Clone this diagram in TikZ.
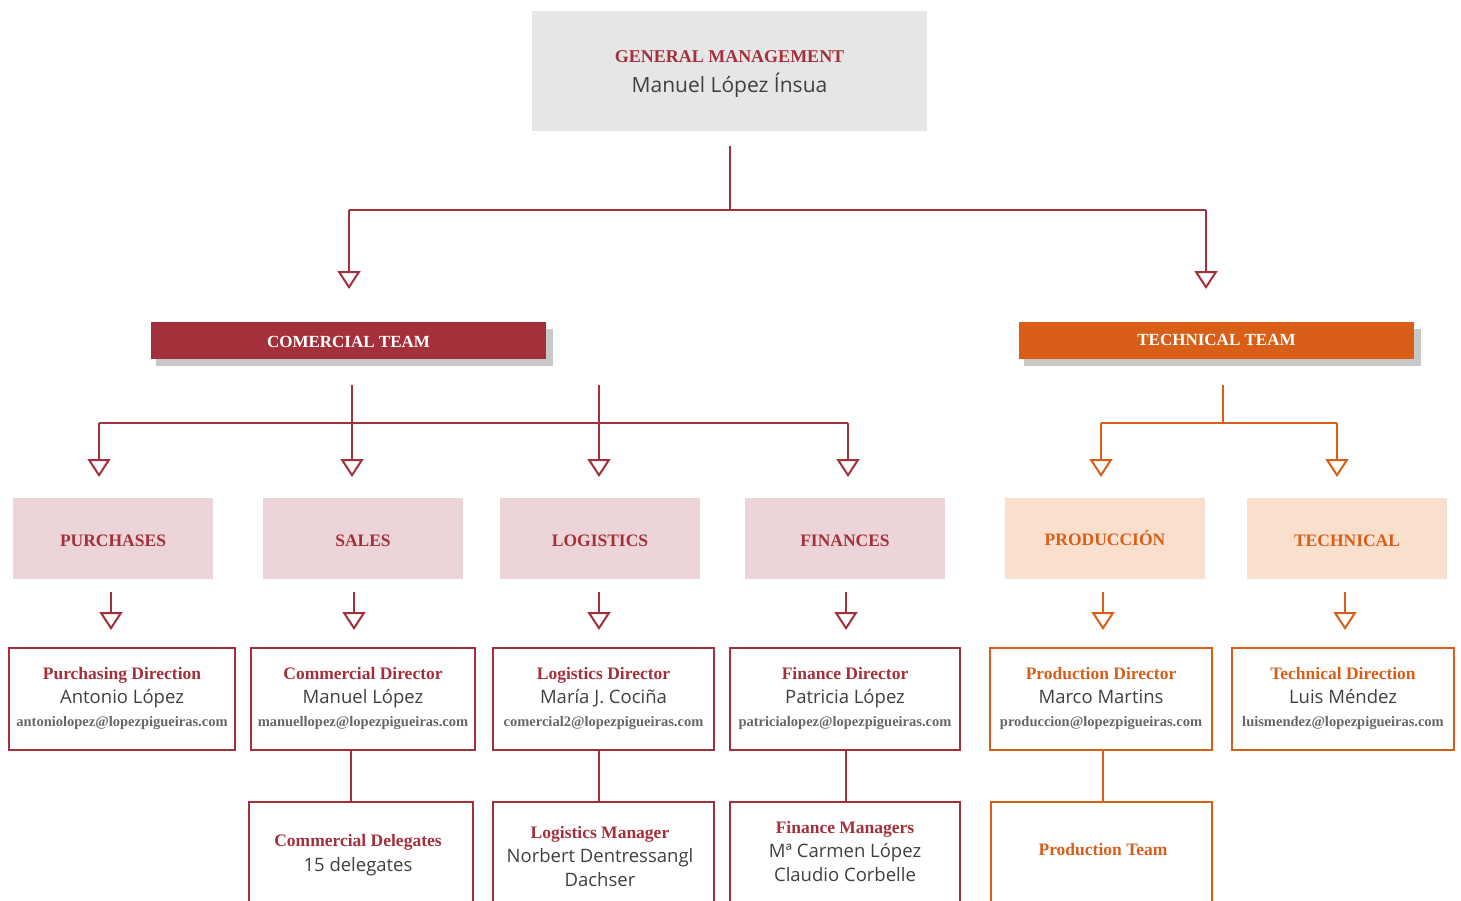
\documentclass[tikz,border=0pt]{standalone}
\usepackage{fontspec}
\setmainfont{Liberation Serif}
\newfontfamily\osans{Open Sans}
\usetikzlibrary{arrows.meta}
\definecolor{cred}{HTML}{A3303A}
\definecolor{corange}{HTML}{D95F18}
\definecolor{cpink}{HTML}{EBD5D8}
\definecolor{cpeach}{HTML}{F8DFCE}
\definecolor{cgm}{HTML}{E6E6E6}
\definecolor{cshadow}{HTML}{C8C8C8}
\definecolor{cname}{HTML}{404040}
\definecolor{cmail}{HTML}{666666}
\newcommand{\ttl}[1]{{\fontsize{17.5}{20}\selectfont\bfseries #1}}
\newcommand{\nm}[1]{{\osans\fontsize{18.5}{23}\selectfont\color{cname}#1}}
\newcommand{\ml}[1]{{\fontsize{14.5}{20}\selectfont\bfseries\color{cmail}#1}}
\newcommand{\upstrut}{\rule{0pt}{16.5pt}}
\begin{document}
\begin{tikzpicture}[x=1pt,y=-1pt,
  conn/.style={line width=2pt},
  arr/.style={line width=2pt,-{Triangle[open,length=18pt,width=23pt]}},
  teambar/.style={inner sep=0,minimum width=395,minimum height=37,text=white,font=\fontsize{17}{20}\selectfont\bfseries},
  unitbox/.style={inner sep=0,minimum width=200,minimum height=81,font=\fontsize{17.5}{20}\selectfont\bfseries},
  pbox/.style={draw,line width=2.5pt,inner sep=0,minimum height=102,align=center,font=\fontsize{18}{23.5}\selectfont},
  lbox/.style={draw,line width=2.5pt,inner sep=0,minimum height=118},
  ltext/.style={align=center,inner sep=0,font=\fontsize{18}{24}\selectfont}
]
\useasboundingbox (0,0) rectangle (1461,900);
\clip (0,0) rectangle (1461,900);

% General management
\node[fill=cgm,inner sep=0,minimum width=395,minimum height=120,align=center,font=\fontsize{20}{30}\selectfont] (gm) at (729.5,71)
  {\rule{0pt}{19pt}{\fontsize{18}{22}\selectfont\bfseries\color{cred}GENERAL MANAGEMENT}\\
   {\osans\fontsize{21}{24}\selectfont\color{cname}Manuel López Ínsua}};

% Team bars
\fill[cshadow] (156,329) rectangle (553,366);
\node[teambar,fill=cred] (ct) at (348.5,340.5) {\rule{0pt}{15pt}COMERCIAL TEAM};
\fill[cshadow] (1024,329) rectangle (1421,366);
\node[teambar,fill=corange] (tt) at (1216.5,340) {TECHNICAL TEAM};

% Level 1 connectors
\coordinate (g0) at (730,146);
\coordinate (gj) at (730,210);
\coordinate (gl) at (349,210);
\coordinate (gr) at (1206,210);
\coordinate (glt) at (349,289);
\coordinate (grt) at (1206,289);
\draw[conn,cred] (g0) -- (gj);
\draw[conn,cred] (gl) -- (gr);
\draw[arr,cred] (gl) -- (glt);
\draw[arr,cred] (gr) -- (grt);

% Units
\node[unitbox,fill=cpink,text=cred] (pur) at (113,538.5) {\upstrut PURCHASES};
\node[unitbox,fill=cpink,text=cred] (sal) at (363,538.5) {\upstrut SALES};
\node[unitbox,fill=cpink,text=cred] (log) at (600,538.5) {\upstrut LOGISTICS};
\node[unitbox,fill=cpink,text=cred] (fin) at (845,538.5) {\upstrut FINANCES};
\node[unitbox,fill=cpeach,text=corange] (pro) at (1105,538.5) {PRODUCCIÓN};
\node[unitbox,fill=cpeach,text=corange] (tec) at (1347,538.5) {\upstrut TECHNICAL};

% Level 2 connectors (commercial)
\coordinate (c1) at (352,385);
\coordinate (c2) at (599,385);
\coordinate (hl) at (99,423);
\coordinate (hr) at (848,423);
\draw[conn,cred] (hl) -- (hr);
\draw[arr,cred] (hl) -- (99,477);
\draw[arr,cred] (c1) -- (352,477);
\draw[arr,cred] (c2) -- (599,477);
\draw[arr,cred] (hr) -- (848,477);
% Level 2 connectors (technical)
\coordinate (t1) at (1223,385);
\coordinate (tj) at (1223,423);
\coordinate (tl) at (1101,423);
\coordinate (tr) at (1337,423);
\draw[conn,corange] (t1) -- (tj);
\draw[conn,corange] (tl) -- (tr);
\draw[arr,corange] (tl) -- (1101,477);
\draw[arr,corange] (tr) -- (1337,477);

% Unit to person arrows
\foreach \x/\c in {111/cred,354/cred,599/cred,846/cred,1103/corange,1345/corange}
  \draw[arr,\c] (\x,592) -- (\x,630);

% Directors
\node[pbox,draw=cred,minimum width=226] (pd) at (122,699)
  {\textcolor{cred}{\ttl{Purchasing Direction}}\\\nm{Antonio López}\\\ml{antoniolopez@lopezpigueiras.com}};
\node[pbox,draw=cred,minimum width=224] (cdir) at (363,699)
  {\textcolor{cred}{\ttl{Commercial Director}}\\\nm{Manuel López}\\\ml{manuellopez@lopezpigueiras.com}};
\node[pbox,draw=cred,minimum width=221] (ld) at (603.5,699)
  {\textcolor{cred}{\ttl{Logistics Director}}\\\nm{María J. Cociña}\\\ml{comercial2@lopezpigueiras.com}};
\node[pbox,draw=cred,minimum width=230] (fd) at (845,699)
  {\textcolor{cred}{\ttl{Finance Director}}\\\nm{Patricia López}\\\ml{patricialopez@lopezpigueiras.com}};
\node[pbox,draw=corange,minimum width=222] (prd) at (1101,699)
  {\textcolor{corange}{\ttl{Production Director}}\\\nm{Marco Martins}\\\ml{produccion@lopezpigueiras.com}};
\node[pbox,draw=corange,minimum width=222] (td) at (1343,699)
  {\textcolor{corange}{\ttl{Technical Direction}}\\\nm{Luis Méndez}\\\ml{luismendez@lopezpigueiras.com}};

% Lower boxes
\node[lbox,draw=cred,minimum width=224] (cdel) at (361,861) {};
\node[lbox,draw=cred,minimum width=221] (lm) at (603.5,861) {};
\node[lbox,draw=cred,minimum width=230] (fm) at (845,861) {};
\node[lbox,draw=corange,minimum width=221] (pt) at (1101.5,861) {};
\node[ltext,font=\fontsize{18}{25}\selectfont] (cdelt) at (358,855) {\textcolor{cred}{\ttl{Commercial Delegates}}\\\nm{15 delegates}};
\node[ltext] (lmt) at (600,857) {\textcolor{cred}{\ttl{Logistics Manager}}\\\nm{Norbert Dentressangl}\\\nm{Dachser}};
\node[ltext] (fmt) at (845,852) {\textcolor{cred}{\ttl{Finance Managers}}\\\nm{Mª Carmen López}\\\nm{Claudio Corbelle}};
\node[ltext] (ptt) at (1103,850) {\textcolor{corange}{\ttl{Production Team}}};

% Director to lower box connectors
\draw[conn,cred] ([xshift=-10pt]cdel.north) -- ([xshift=-10pt]cdel.north |- cdir.south);
\draw[conn,cred] ([xshift=-4.5pt]lm.north) -- ([xshift=-4.5pt]lm.north |- ld.south);
\draw[conn,cred] ([xshift=1pt]fm.north) -- ([xshift=1pt]fm.north |- fd.south);
\draw[conn,corange] ([xshift=1.5pt]pt.north) -- ([xshift=1.5pt]pt.north |- prd.south);
\end{tikzpicture}
\end{document}
